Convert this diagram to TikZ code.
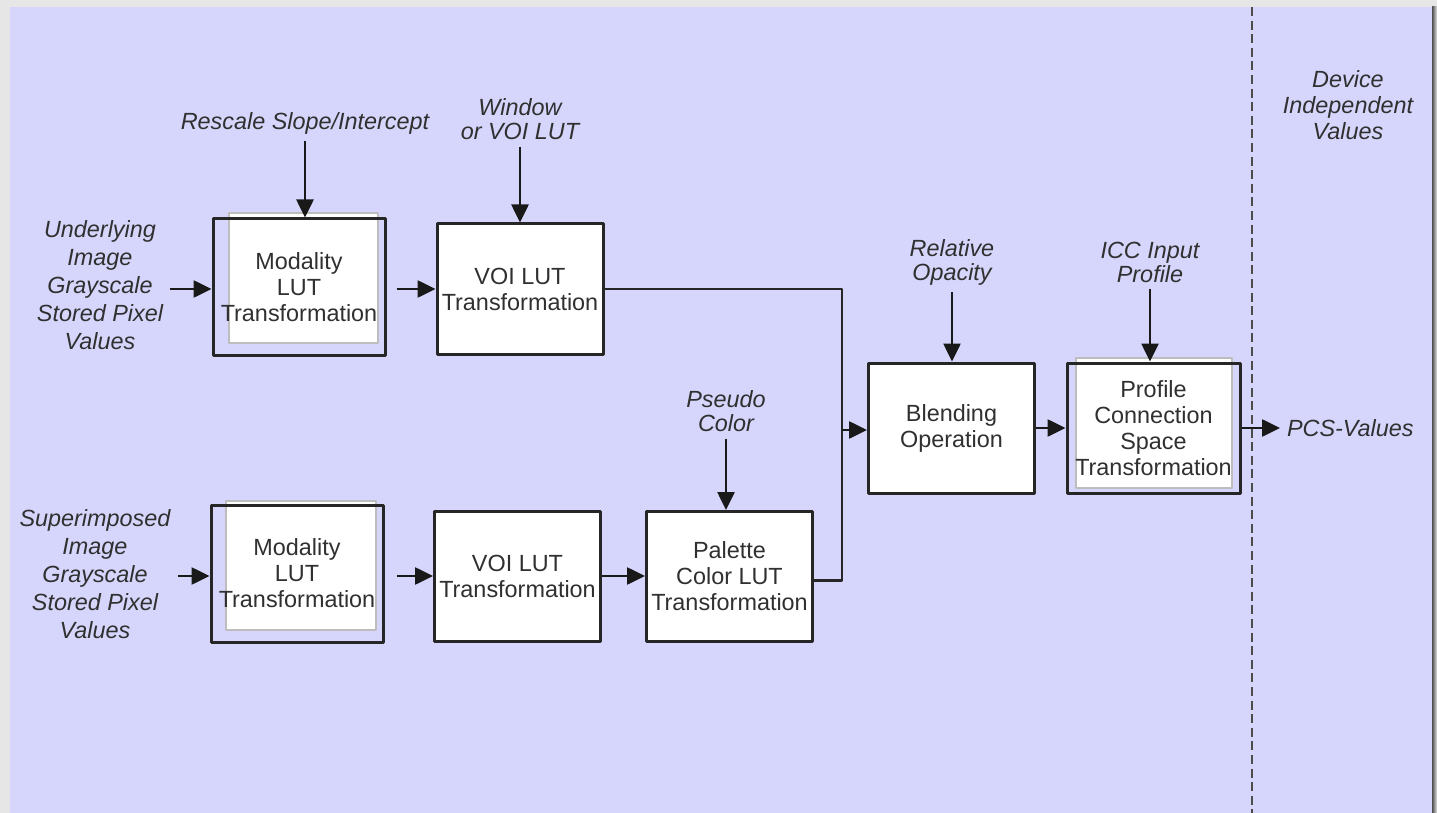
\documentclass[tikz,border=0pt]{standalone}
\usepackage{fontspec}
\setmainfont{Liberation Sans}
\usetikzlibrary{arrows.meta}
\definecolor{panelblue}{HTML}{D6D6FC}
\definecolor{pagegray}{HTML}{E6E6E6}
\definecolor{inkgray}{HTML}{303030}
\definecolor{framegray}{HTML}{BDBDBD}

\begin{document}
\begin{tikzpicture}[
  x=0.5pt,
  y=-0.5pt,
  line join=round,
  font=\fontsize{11.7}{13}\selectfont,
  stagebox/.style={draw=black!85,fill=white,line width=1.5pt,minimum width=83pt,minimum height=65pt,align=center,text=inkgray,inner sep=0pt},
  backbox/.style={draw=framegray,fill=white,line width=0.6pt,inner sep=0pt},
  inlabel/.style={align=center,text=inkgray,font=\fontsize{11.7}{12}\selectfont\itshape},
  sidelabel/.style={inlabel,font=\fontsize{11.7}{14}\selectfont\itshape},
  arrow/.style={draw=black!90,line width=1.3pt,-{Triangle[length=9pt,width=8.5pt]}},
  wire/.style={draw=black!85,line width=1.1pt},
  divider/.style={draw=black!70,line width=1pt,dash pattern=on 4.5pt off 2.3pt}
]
  % Match the original screenshot frame.
  \useasboundingbox (0,0) rectangle (1437,813);
  \fill[pagegray] (0,0) rectangle (1437,813);
  \fill[panelblue] (10,7) rectangle (1432,813);
  \shade[left color=black!70,right color=pagegray] (1432,7) rectangle (1437,813);

  % Boundary towards the device independent side.
  \coordinate (divTop) at (1252,7);
  \coordinate (divBottom) at (1252,813);
  \draw[divider] (divTop) -- (divBottom);

  % Top row: underlying image.
  \node[backbox,minimum width=74.5pt,minimum height=65pt] (mod1back) at (303.5,278) {};
  \node[stagebox,fill=none,minimum width=86pt,minimum height=68pt] (mod1) at (299,287) {Modality\\LUT\\Transformation};
  \node[stagebox] (voi1) at (520,289) {VOI LUT\\Transformation};

  % Bottom row: superimposed image.
  \node[backbox,minimum width=75pt,minimum height=64.5pt] (mod2back) at (301,565.5) {};
  \node[stagebox,fill=none,minimum width=86pt,minimum height=68.5pt] (mod2) at (297,573.5) {Modality\\LUT\\Transformation};
  \node[stagebox] (voi2) at (517.5,576) {VOI LUT\\Transformation};
  \node[stagebox] (palette) at (729.5,576.5) {Palette\\Color LUT\\Transformation};

  % Merged path.
  \node[stagebox] (blend) at (951.5,428) {Blending\\Operation};
  \node[backbox,minimum width=78pt,minimum height=65pt] (pcsback) at (1154,423) {};
  \node[stagebox,fill=none,minimum width=86.5pt] (profile) at (1153.5,428) {Profile\\Connection\\Space\\Transformation};

  % Inputs and outputs.
  \node[inlabel] (rescale) at (305,123) {Rescale Slope/Intercept};
  \node[inlabel] (window) at (520,119) {Window\\or VOI LUT};
  \node[sidelabel] (underlying) at (100,285) {Underlying\\Image\\Grayscale\\Stored Pixel\\Values};
  \node[sidelabel] (superimposed) at (95,574) {Superimposed\\Image\\Grayscale\\Stored Pixel\\Values};
  \node[inlabel] (pseudo) at (726,411) {Pseudo\\Color};
  \node[inlabel] (opacity) at (952,262) {Relative\\Opacity};
  \node[inlabel] (icc) at (1150,262) {ICC Input\\Profile};
  \node[inlabel,anchor=west] (pcs) at (1280,428) {PCS-Values};
  \node[inlabel,font=\fontsize{11.7}{13}\selectfont\itshape] (device) at (1348,105) {Device\\Independent\\Values};

  % Parameter arrows from above.
  \draw[arrow] (rescale.south) -- (rescale.south |- mod1.north);
  \draw[arrow] (window.south) -- (window.south |- voi1.north);
  \draw[arrow] (pseudo.south) -- (pseudo.south |- palette.north);
  \draw[arrow] (opacity.south) -- (opacity.south |- blend.north);
  \draw[arrow] (icc.south) -- (icc.south |- profile.north);

  % Data flow.
  \draw[arrow] (underlying.east |- voi1) -- (mod1.west |- voi1);
  \draw[arrow,shorten <=5pt] (mod1.east |- voi1) -- (voi1.west);
  \draw[arrow] (superimposed.east |- voi2) -- (mod2.west |- voi2);
  \draw[arrow,shorten <=6pt] (mod2.east |- voi2) -- (voi2.west);
  \draw[arrow] (voi2.east) -- (palette.west |- voi2);

  \coordinate (merge) at (842,430);
  \draw[wire] (voi1.east) -| (merge);
  \draw[wire] ([yshift=-2pt]palette.east) -| (merge);
  \draw[arrow] (merge) -- (merge -| blend.west);
  \draw[arrow] (blend.east) -- (profile.west);
  \draw[arrow] (profile.east) -- (pcs.west);
\end{tikzpicture}
\end{document}
